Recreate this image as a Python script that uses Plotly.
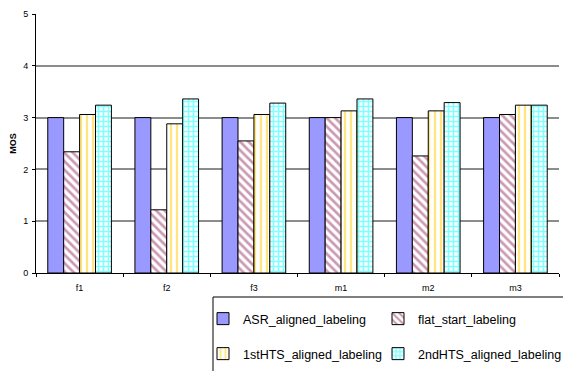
import plotly.graph_objects as go

# MOS scores per test sentence set
categories = ["f1", "f2", "f3", "m1", "m2", "m3"]
asr_aligned = [3.0, 3.0, 3.0, 3.0, 3.0, 3.0]
flat_start = [2.34, 1.22, 2.55, 3.0, 2.26, 3.06]
hts1_aligned = [3.06, 2.88, 3.06, 3.13, 3.13, 3.24]
hts2_aligned = [3.24, 3.36, 3.28, 3.36, 3.29, 3.24]
y_ticks = [0, 1, 2, 3, 4, 5]

FONT = "Liberation Sans, Arial, sans-serif"
outline = dict(color="black", width=1)

fig = go.Figure()
fig.add_trace(go.Bar(
    x=categories, y=asr_aligned, name="ASR_aligned_labeling",
    marker=dict(color="#9999FF", line=outline), legend="legend"))
fig.add_trace(go.Bar(
    x=categories, y=flat_start, name="flat_start_labeling",
    marker=dict(color="white", line=outline,
                pattern=dict(shape="\\", fgcolor="#993366", bgcolor="white",
                             size=6, solidity=0.45)),
    legend="legend2"))
fig.add_trace(go.Bar(
    x=categories, y=hts1_aligned, name="1stHTS_aligned_labeling",
    marker=dict(color="white", line=outline,
                pattern=dict(shape="|", fgcolor="#FFCC00", bgcolor="white",
                             size=6, solidity=0.38)),
    legend="legend3"))
fig.add_trace(go.Bar(
    x=categories, y=hts2_aligned, name="2ndHTS_aligned_labeling",
    marker=dict(color="white", line=outline,
                pattern=dict(shape="+", fgcolor="#00FFFF", bgcolor="white",
                             size=5, solidity=0.55)),
    legend="legend4"))

# plot area in pixels: x 36..559, y 14..273
L, R, T, B = 36, 559, 14, 273
W, H = 563, 371


def px_x(x):
    return (x - L) / (R - L)


def px_y(y):
    return (B - y) / (B - T)


def legend_at(x_px, y_px):
    return dict(
        x=px_x(x_px), y=px_y(y_px), xanchor="left", yanchor="middle",
        font=dict(family=FONT, size=12.5, color="black"),
        bgcolor="rgba(0,0,0,0)", borderwidth=0,
        itemclick=False, itemdoubleclick=False,
    )


fig.update_layout(
    width=W, height=H,
    margin=dict(l=L, r=W - R, t=T, b=H - B, autoexpand=False),
    paper_bgcolor="white", plot_bgcolor="white",
    barmode="group", bargap=0.27, bargroupgap=0,
    font=dict(family=FONT, size=9, color="black"),
    showlegend=True,
    legend=legend_at(203, 319),
    legend2=legend_at(378, 319),
    legend3=legend_at(203, 354),
    legend4=legend_at(378, 354),
    xaxis=dict(
        showline=True, linecolor="black", linewidth=1,
        ticks="outside", tickson="boundaries", ticklen=3, tickcolor="black",
        tickfont=dict(size=9), ticklabelstandoff=6,
        showgrid=False, zeroline=False,
    ),
    yaxis=dict(
        range=[0, 5], tickvals=y_ticks,
        showline=True, linecolor="black", linewidth=1,
        ticks="outside", ticklen=3, tickcolor="black",
        tickfont=dict(size=9), ticklabelstandoff=2,
        showgrid=True, gridcolor="#8c8c8c", gridwidth=2, zeroline=False,
        title=dict(text="<b>MOS</b>", font=dict(size=9), standoff=5),
    ),
    shapes=[dict(
        type="rect", xref="paper", yref="paper",
        x0=px_x(213), x1=px_x(W + 20), y0=px_y(297), y1=px_y(H + 20),
        line=dict(color="black", width=1), fillcolor="rgba(0,0,0,0)",
        layer="below",
    )],
)

fig.write_html("out.html")
